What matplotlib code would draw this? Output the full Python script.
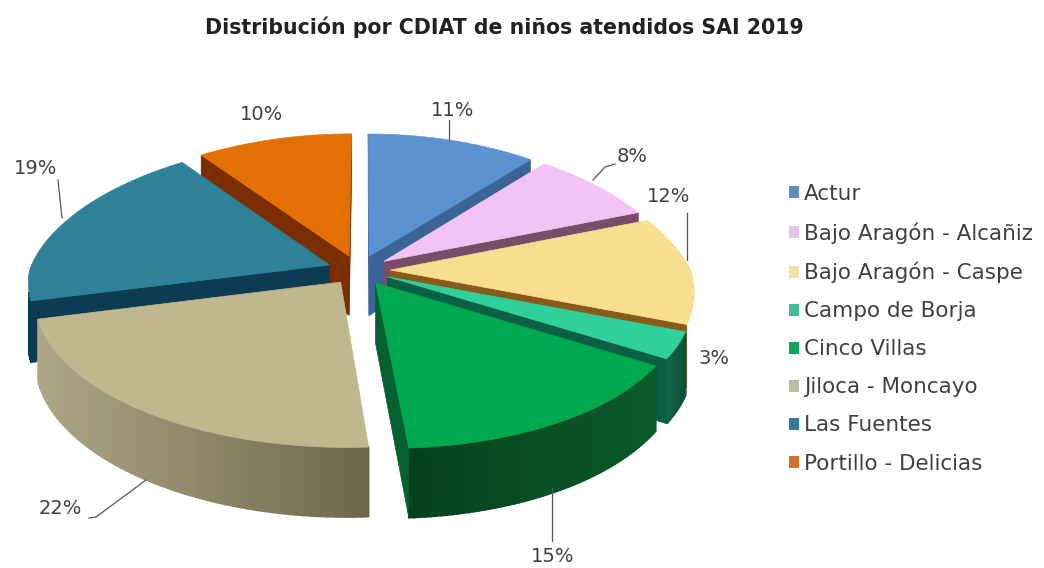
import numpy as np
import matplotlib
matplotlib.use("Agg")
import matplotlib.pyplot as plt
from matplotlib.patches import Patch

title = "Distribución por CDIAT de niños atendidos SAI 2019"
centros = ["Actur", "Bajo Aragón - Alcañiz", "Bajo Aragón - Caspe", "Campo de Borja",
           "Cinco Villas", "Jiloca - Moncayo", "Las Fuentes", "Portillo - Delicias"]
valores = [11, 8, 12, 3, 15, 22, 19, 10]

top_cols = ["#5B92D2", "#F3C3F6", "#F8DE8F", "#2FD09A", "#00A84F", "#BFB88F", "#2E8199", "#E46F04"]
cut_cols = ["#3A6496", "#7B4C68", "#8A5A1A", "#0B5F45", "#07602F", "#6E6748", "#0B3C52", "#7A2E00"]
wall_l = ["#3A6496", "#7B4C68", "#8A5A1A", "#1A7557", "#0A5A2A", "#B0A988", "#0B3C52", "#7A2E00"]
wall_r = ["#3A6496", "#7B4C68", "#8A5A1A", "#0C4F3A", "#04401D", "#6F674A", "#0B3C52", "#7A2E00"]
leg_cols = ["#5F8DBE", "#E3C6E8", "#F3E0A5", "#45BB9A", "#12A55E", "#BDBBA0", "#36789A", "#D2712A"]

# label anchor (pixels) and leader-line paths (pixels)
lab_xy = [(453, 110), (632, 156), (669, 197), (714, 359), (553, 557), (60, 508), (36, 169), (262, 115)]
leaders = [[(449, 120), (449, 140)],
           [(615, 164), (605, 167), (593, 180)],
           [(687, 213), (687, 260)],
           None,
           [(552, 488), (552, 541)],
           [(89, 518), (96, 517), (146, 480)],
           [(58, 180), (62, 218)],
           None]

CX, CY, AX, BY, K, DZ, EXP = 359, 270, 300, 141, 0.127, 60, 0.105
K_BACK = 0.2


def project(X, Y, Z):
    s = 1.0 / (1.0 + K * Y)
    sx = 1.0 / (1.0 + np.where(Y > 0, K_BACK, K) * Y)
    return CX + 4.1 * Y * Y - 4.1 * Y + AX * X * sx, CY + (-BY * Y + DZ * Z) * s


def mix(c1, c2, t):
    a, b = np.array(matplotlib.colors.to_rgb(c1)), np.array(matplotlib.colors.to_rgb(c2))
    return tuple(a + (b - a) * t)


def area(px, py):
    return 0.5 * np.sum(px * np.roll(py, -1) - np.roll(px, -1) * py)


fig = plt.figure(figsize=(10.44, 5.68), dpi=100, facecolor="white")
ax = fig.add_axes([0, 0, 1, 1])
ax.set_xlim(0, 1044)
ax.set_ylim(568, 0)
ax.axis("off")

fracs = np.array(valores, float) / sum(valores)
edges = np.concatenate([[0], np.cumsum(fracs)]) * 2 * np.pi
mids = (edges[:-1] + edges[1:]) / 2
order = np.argsort(-np.cos(mids))
zord = 2
FONT = "DejaVu Sans"

for i in order:
    a0, a1 = edges[i], edges[i + 1]
    ox, oy = EXP * np.sin(mids[i]), EXP * np.cos(mids[i])
    th = np.linspace(a0, a1, 60)
    RX, RY = ox + np.sin(th), oy + np.cos(th)
    tx, ty = project(RX, RY, 0)
    bx, by = project(RX, RY, 1)
    ax_t, ay_t = project(ox, oy, 0)
    ax_b, ay_b = project(ox, oy, 1)

    # outer wall, shaded strip by strip across the screen (only slices 3-6 show one)
    for j in range(len(th) - 1):
        if i in (3, 4, 5, 6) and np.cos(th[j]) < -0.2:
            if i == 5:
                t = (tx[j] - 30) / 340
            elif i == 4:
                t = 1 - (tx[j] - 405) / 250
            elif i == 3:
                t = (tx[j] - 650) / 35
            else:
                t = 0.5
            col = mix(wall_l[i], wall_r[i], np.clip(t, 0, 1))
            ax.fill([tx[j], tx[j + 1], bx[j + 1], bx[j]], [ty[j], ty[j + 1], by[j + 1], by[j]],
                    color=col, lw=1.2, zorder=zord)

    # cut faces, each drawn only when it faces the viewer
    for k, sign in ((0, 1), (-1, -1)):
        px = np.array([ax_t, tx[k], bx[k], ax_b])
        py = np.array([ay_t, ty[k], by[k], ay_b])
        if sign * area(px, py) < 0:
            ax.fill(px, py, color=cut_cols[i], lw=0.5, zorder=zord)

    ax.fill(np.r_[ax_t, tx], np.r_[ay_t, ty], color=top_cols[i], lw=0.5, zorder=zord + 0.5)
    zord += 1

txtc = "#404040"
for i, v in enumerate(valores):
    ax.text(*lab_xy[i], f"{v}%", ha="center", va="center", fontsize=14, color=txtc,
            family=FONT, zorder=50)
    if leaders[i]:
        xs, ys = zip(*leaders[i])
        ax.plot(xs, ys, color="#555555", lw=0.9, zorder=40)

ax.text(504, 27, title, ha="center", va="center", fontsize=14.8, fontweight="bold",
        color="#222222", family=FONT, zorder=50)

handles = [Patch(facecolor=c, edgecolor="none") for c in leg_cols]
fig.legend(handles, centros, loc="upper left", bbox_to_anchor=(789 / 1044, 1 - 184 / 568),
           frameon=False, ncol=1, labelcolor="#404040",
           handlelength=0.48, handleheight=0.48, handletextpad=0.2, labelspacing=0.84,
           borderpad=0, borderaxespad=0, prop={"family": FONT, "size": 15.5})

fig.savefig("out.png", dpi=100)
